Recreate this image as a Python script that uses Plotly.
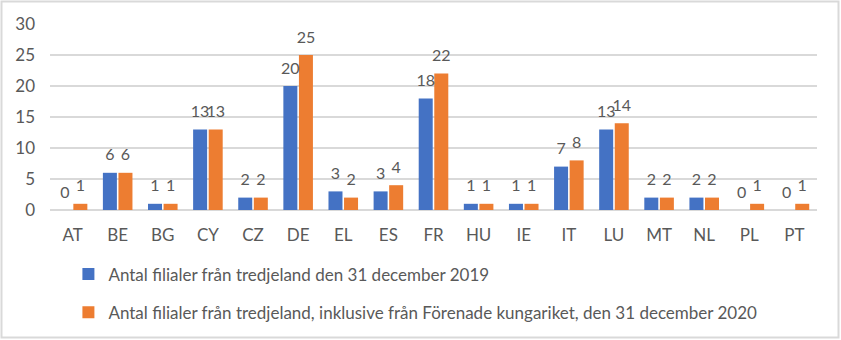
import plotly.graph_objects as go

# Country codes and branch counts
countries = ["AT", "BE", "BG", "CY", "CZ", "DE", "EL", "ES", "FR",
             "HU", "IE", "IT", "LU", "MT", "NL", "PL", "PT"]
branches_2019 = [0, 6, 1, 13, 2, 20, 3, 3, 18, 1, 1, 7, 13, 2, 2, 0, 0]
branches_2020 = [1, 6, 1, 13, 2, 25, 2, 4, 22, 1, 1, 8, 14, 2, 2, 1, 1]

name_2019 = "Antal filialer från tredjeland den 31 december 2019"
name_2020 = ("Antal filialer från tredjeland, inklusive från Förenade "
             "kungariket, den 31 december 2020")

y_ticks = [0, 5, 10, 15, 20, 25, 30]

BLUE = "#4472C4"
ORANGE = "#ED7D31"
GREY_TEXT = "#595959"
GRID = "#D9D9D9"
FONT = "Lato, 'Open Sans', sans-serif"
FS = 17

fig = go.Figure()

series = [(name_2019, branches_2019, BLUE, "a"),
          (name_2020, branches_2020, ORANGE, "b")]

for name, vals, color, grp in series:
    fig.add_trace(go.Bar(
        x=countries, y=vals, name=name,
        marker=dict(color=color, line=dict(width=0)),
        offsetgroup=grp, legendgroup=grp,
    ))

# value labels placed above each bar, grouped like the bars
for name, vals, color, grp in series:
    fig.add_trace(go.Scatter(
        x=countries, y=vals, mode="markers+text",
        text=[str(v) for v in vals], textposition="top center",
        textfont=dict(family=FONT, size=16, color=GREY_TEXT),
        marker=dict(size=12, color="rgba(0,0,0,0)"),
        offsetgroup=grp, showlegend=False, hoverinfo="skip",
        cliponaxis=False,
    ))

L, R, T, B = 50, 24, 24, 130
W, H = 841, 340
pw, ph = W - L - R, H - T - B

# light frame around the whole chart
fig.add_shape(type="rect", xref="paper", yref="paper",
              x0=(1.5 - L) / pw, x1=(W - 2.5 - L) / pw,
              y0=-(H - 2.5 - T - ph) / ph, y1=1 + (T - 1.5) / ph,
              line=dict(color=GRID, width=2), fillcolor="rgba(0,0,0,0)",
              layer="below")

fig.update_layout(
    width=W, height=H,
    margin=dict(l=L, r=R, t=T, b=B, autoexpand=False),
    paper_bgcolor="white", plot_bgcolor="white",
    barmode="group", bargap=0.31, bargroupgap=0.1,
    scattermode="group", scattergap=0.31,
    font=dict(family=FONT, size=FS, color=GREY_TEXT),
    showlegend=True,
    legend=dict(orientation="v", x=0.024, xanchor="left",
                y=-0.25, yanchor="top", tracegroupgap=13,
                traceorder="grouped",
                font=dict(family=FONT, size=FS, color=GREY_TEXT),
                bgcolor="rgba(0,0,0,0)"),
    xaxis=dict(type="category", showgrid=False, showline=False,
               ticks="", ticklabelstandoff=13, automargin=False,
               tickfont=dict(family=FONT, size=FS, color=GREY_TEXT)),
    yaxis=dict(range=[0, 30], tickvals=y_ticks, showgrid=True,
               gridcolor=GRID, gridwidth=1.5, zeroline=True,
               zerolinecolor=GRID, zerolinewidth=1.5, showline=False,
               ticks="", ticklabelstandoff=14, automargin=False,
               tickfont=dict(family=FONT, size=FS, color=GREY_TEXT)),
)

fig.write_html("out.html")
